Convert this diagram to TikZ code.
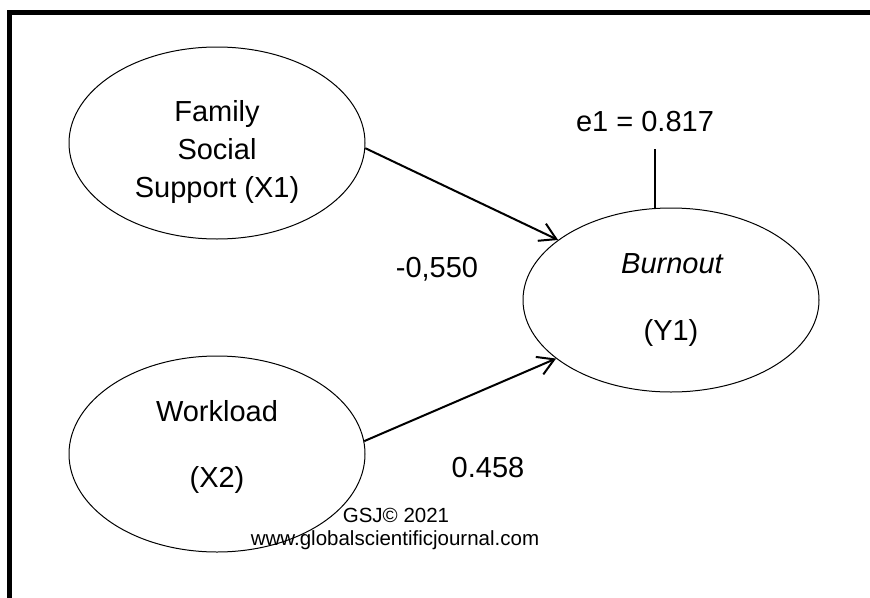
\documentclass[tikz,border=0pt]{standalone}
\usepackage{fontspec}
\setmainfont{Liberation Sans}
\usetikzlibrary{shapes.geometric,arrows.meta}

\tikzset{
  construct/.style={draw=black, line width=1pt, ellipse, inner sep=0pt},
  lbl/.style={anchor=base, inner sep=0pt, font=\fontsize{29}{35}\selectfont},
  small/.style={anchor=base, inner sep=0pt, font=\fontsize{20.5}{24}\selectfont},
  path/.style={draw=black, line width=2pt,
    -{Straight Barb[length=16pt, width=19pt, line width=2pt]}},
  frame/.style={draw=black, line width=5pt}
}

\begin{document}
\begin{tikzpicture}[x=1pt, y=-1pt]
  \useasboundingbox (0,0) rectangle (870,597);

  % heavy frame on the left and top edges
  \coordinate (fb) at (9,600);
  \coordinate (fc) at (9,12);
  \coordinate (fr) at (873,12);
  \draw[frame] (fb) -- (fc) -- (fr);

  % latent constructs
  \node[construct, minimum width=296pt, minimum height=192pt] (x1) at (217,143) {};
  \node[construct, minimum width=296pt, minimum height=196pt] (x2) at (217,454) {};
  \node[construct, minimum width=296pt, minimum height=184pt] (y1) at (671,300) {};

  % construct labels
  \node[lbl] (x1a) at (217,121) {Family};
  \node[lbl] (x1b) at (217,159) {Social};
  \node[lbl] (x1c) at (217,197) {Support (X1)};
  \node[lbl] (x2a) at (217,421) {Workload};
  \node[lbl] (x2b) at (217,487) {(X2)};
  \node[lbl] (y1a) at (672,273) {\itshape Burnout};
  \node[lbl] (y1b) at (671,340) {(Y1)};

  % structural paths
  \draw[path] (x1.-2) -- (y1.152.6);
  \draw[path] (x2.5) -- (y1.207.4);

  % path coefficients
  \node[lbl] (c1) at (437,277) {-0,550};
  \node[lbl] (c2) at (488,477) {0.458};

  % error term
  \node[lbl] (e1) at (645,131) {e1 = 0.817};
  \coordinate (e1top) at (655,149);
  \draw[line width=1.5pt] (e1top) -- (e1top |- y1.north);

  % journal stamp
  \node[small] (gsj) at (396,522) {GSJ© 2021};
  \node[small] (www) at (395,545) {www.globalscientificjournal.com};
\end{tikzpicture}
\end{document}
